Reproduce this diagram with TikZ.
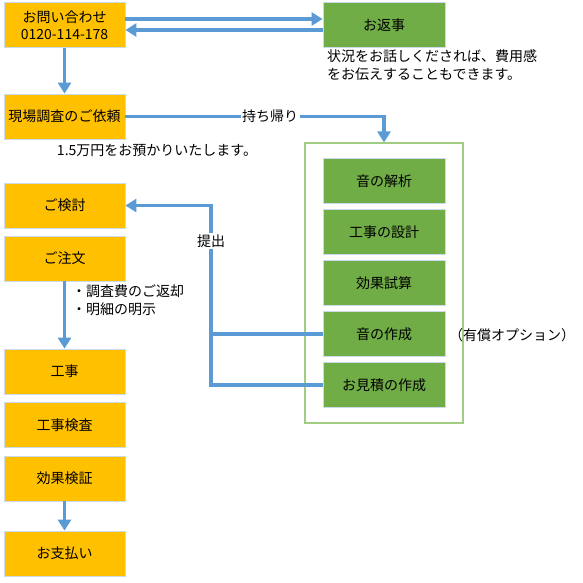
\documentclass[tikz,border=0pt]{standalone}
\usepackage{fontspec}
\setmainfont{Noto Sans CJK JP}
\usepackage{tikz}
\usetikzlibrary{arrows.meta}
\definecolor{stepfill}{RGB}{255, 192, 0}
\definecolor{workfill}{RGB}{112, 173, 71}
\definecolor{flowline}{RGB}{91, 155, 213}
\definecolor{boxedge}{RGB}{205, 218, 236}
\definecolor{kitedge}{RGB}{160, 205, 130}
\newcommand{\jpfont}{\fontsize{14}{17.5}\selectfont}

\begin{document}
\begin{tikzpicture}[x=1pt, y=-1pt,
		stepbox/.style={fill=stepfill, draw=boxedge, line width=0.8pt, minimum width=121pt, minimum height=45pt, inner sep=0pt, font=\jpfont, align=center},
		workbox/.style={stepbox, fill=workfill, minimum width=122pt},
		flow/.style={draw=flowline, line width=3.5pt},
		flowarr/.style={flow, -{Triangle[width=13pt, length=11pt]}},
		note/.style={inner sep=0pt, font=\jpfont, align=left},
		cut/.style={note, fill=white, inner sep=1.5pt}]
			\useasboundingbox (0,0) rectangle (583,582);
			
			% customer side
			\node[stepbox] (toiawase) at (64.5,25)    {お問い合わせ\\0120-114-178};
			\node[stepbox] (genba)    at (64.5,116.5) {現場調査のご依頼};
			\node[stepbox] (kento)    at (64.5,205.5) {ご検討};
			\node[stepbox] (chumon)   at (64.5,258.5) {ご注文};
			\node[stepbox] (koji)     at (64.5,371.5) {工事};
			\node[stepbox] (kensa)    at (64.5,425)   {工事検査};
			\node[stepbox] (kensho)   at (64.5,478.5) {効果検証};
			\node[stepbox] (shiharai) at (64.5,553.5) {お支払い};
			
			% office side
			\node[workbox] (henji) at (384,25) {お返事};
			\node[draw=kitedge, line width=1.2pt, minimum width=158pt, minimum height=280pt] (kit) at (384,283) {};
			\node[workbox] (kaiseki)   at (384,181) {音の解析};
			\node[workbox] (sekkei)    at (384,232) {工事の設計};
			\node[workbox] (shisan)    at (384,283) {効果試算};
			\node[workbox] (sakusei)   at (384,334) {音の作成};
			\node[workbox] (mitsumori) at (384,385) {お見積の作成};
			
			% notes
			\node[note] (azukari)  at (157,150)            {1.5万円をお預かりいたします。};
			\node[note, anchor=west] (jokyo)    at (327,65)  {状況をお話しくだされば、費用感\\をお伝えすることもできます。};
			\node[note, anchor=west] (henkyaku) at (72,300)  {・調査費のご返却\\・明細の明示};
			\node[note] (option)   at (512,335)            {（有償オプション）};
			
			% flow
			\draw[flowarr] ([yshift=6pt]toiawase.east) -- ([yshift=6pt]henji.west);
			\draw[flowarr] ([yshift=-5pt]henji.west) -- ([yshift=-5pt]toiawase.east);
			\draw[flowarr] (toiawase) -- (genba);
			\draw[flowarr] (genba.east) -| node[cut, pos=0.28] (mochikaeri) {持ち帰り} (kit.north);
			\draw[flowarr] (chumon) -- (koji);
			\draw[flowarr] (kensho) -- (shiharai);
			
			\coordinate (joint) at (211,385);
			\draw[flow] (sakusei.west) -- (sakusei.west -| joint);
			\draw[flowarr] (mitsumori.west) -- (joint) |- node[cut, pos=0.4] (teishutsu) {提出} (kento.east);
			
		\end{tikzpicture}
\end{document}
